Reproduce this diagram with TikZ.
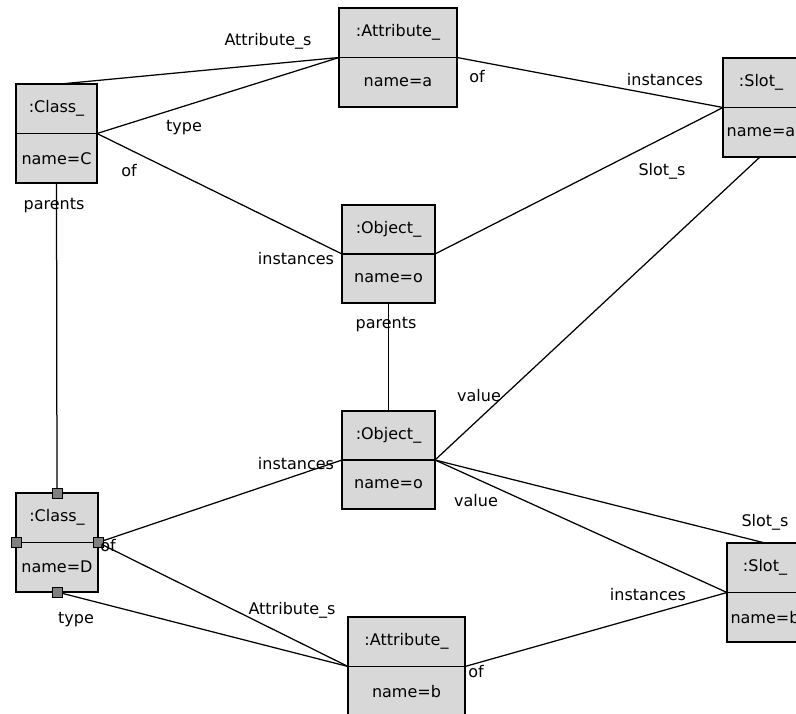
\documentclass[tikz,border=0pt]{standalone}
\usepackage{fontspec}
\setmainfont{DejaVu Sans}
\usetikzlibrary{calc}
\definecolor{boxgray}{RGB}{216,216,216}
\definecolor{portgray}{RGB}{128,128,128}
\newcommand{\umlbox}[7]{%
  \node[box, minimum width=#4pt, minimum height=#5pt] (#1) at (#2,#3) {};
  \draw[divider] (#1.west) -- (#1.east);
  \node[boxtxt] (#1-t) at ($(#1.center)!0.5!(#1.north)$) {#6};
  \node[boxtxt] (#1-a) at ($(#1.center)!0.5!(#1.south)$) {#7};
}
\begin{document}
\begin{tikzpicture}[x=1pt,y=-1pt,
  box/.style={draw=black, line width=1.3pt, fill=boxgray, inner sep=0pt, outer sep=0pt},
  divider/.style={line width=1.3pt},
  boxtxt/.style={font=\fontsize{16}{18}\selectfont, inner sep=0pt},
  lbl/.style={font=\fontsize{16}{18}\selectfont, inner sep=0pt},
  conn/.style={draw=black, line width=1.25pt},
  port/.style={draw=black, line width=0.8pt, fill=portgray, minimum size=10pt, inner sep=0pt}]
\useasboundingbox (0,0) rectangle (796,714);
\clip (0,0) rectangle (796,714);
\fill[white] (0,0) rectangle (796,714);

% boxes
\umlbox{cc}{56.5}{133.5}{81}{99}{:Class\_}{name=C}
\umlbox{aa}{398}{57.5}{118}{99}{:Attribute\_}{name=a}
\umlbox{sa}{761}{107.5}{76}{99}{:Slot\_}{name=a}
\umlbox{ot}{388.5}{254}{93}{98}{:Object\_}{name=o}
\umlbox{ob}{388.5}{460}{93}{98}{:Object\_}{name=o}
\umlbox{cd}{57}{542.5}{82}{99}{:Class\_}{name=D}
\umlbox{ab}{406.5}{666.5}{117}{99}{:Attribute\_}{name=b}
\umlbox{sb}{765}{592.5}{76}{99}{:Slot\_}{name=b}

% connectors
\draw[conn] ([xshift=4pt]cc.north) -- (aa.west);
\draw[conn] (cc.east) -- (aa.west);
\draw[conn] (cc.east) -- (ot.west);
\draw[conn] (aa.east) -- (sa.west);
\draw[conn] (ot.east) -- (sa.west);
\draw[conn] ([xshift=-1pt]sa.south) -- (ob.east);
\draw[conn] (ot.south) -- (ob.north);
\draw[conn] (cc.south) -- (cd.north);
\draw[conn] (cd.east) -- (ob.west);
\draw[conn] (cd.east) -- (ab.west);
\draw[conn] (cd.south) -- (ab.west);
\draw[conn] (ab.east) -- (sb.west);
\draw[conn] (ob.east) -- (sb.north);
\draw[conn] (ob.east) -- (sb.west);

% ports on Class D
\node[port] (pn) at (cd.north) {};
\node[port] (pw) at (cd.west) {};
\node[port] (pe) at (cd.east) {};
\node[port] (ps) at (cd.south) {};

% labels
\node[lbl] (l1) at (268,41) {Attribute\_s};
\node[lbl] (l2) at (184,128) {type};
\node[lbl] (l3) at (129,171) {of};
\node[lbl] (l4) at (54,206) {parents};
\node[lbl] (l5) at (296,259) {instances};
\node[lbl] (l6) at (477,77) {of};
\node[lbl] (l7) at (665,80) {instances};
\node[lbl] (l8) at (662,171) {Slot\_s};
\node[lbl] (l9) at (386,325) {parents};
\node[lbl] (l10) at (479,396) {value};
\node[lbl] (l11) at (296,464) {instances};
\node[lbl] (l12) at (476,501) {value};
\node[lbl] (l13) at (108,546) {of};
\node[lbl] (l14) at (76,620) {type};
\node[lbl] (l15) at (292,610) {Attribute\_s};
\node[lbl] (l16) at (476,672) {of};
\node[lbl] (l17) at (648,595) {instances};
\node[lbl] (l18) at (765,522) {Slot\_s};
\end{tikzpicture}
\end{document}
